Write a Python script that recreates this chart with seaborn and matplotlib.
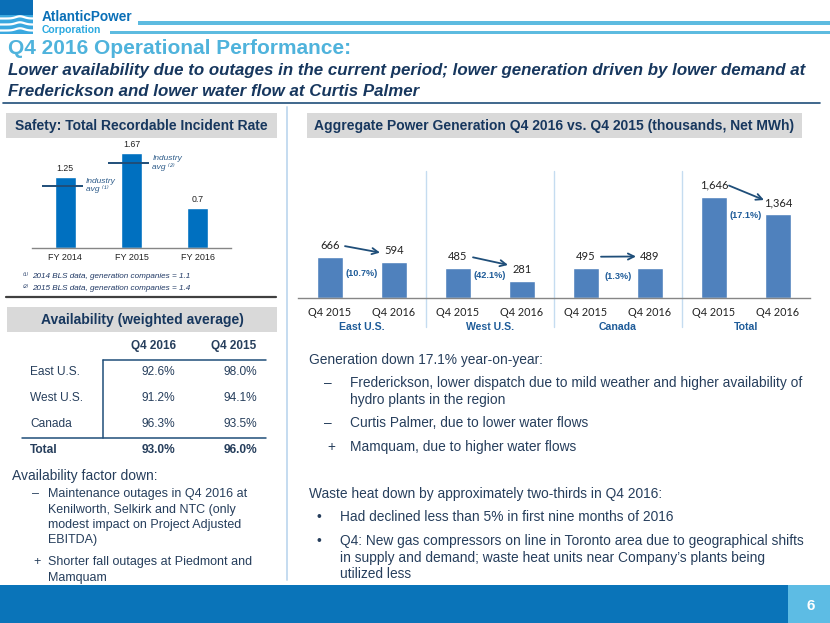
import matplotlib
matplotlib.use('Agg')
import matplotlib.pyplot as plt
import seaborn as sns
import pandas as pd
import numpy as np
from matplotlib.patches import Rectangle
from matplotlib.lines import Line2D
from matplotlib import transforms as mtrans

# ---------------- data ----------------
safety_years = ['FY 2014', 'FY 2015', 'FY 2016']
safety_trir = [1.25, 1.67, 0.7]
safety_labels = ['1.25', '1.67', '0.7']
industry_avg = [1.1, 1.5]          # drawn next to FY 2014 and FY 2015
industry_notes = ['⁽¹⁾', '⁽²⁾']
footnotes = ['2014 BLS data, generation companies = 1.1',
             '2015 BLS data, generation companies = 1.4']

regions = ['East U.S.', 'West U.S.', 'Canada', 'Total']
periods = ['Q4 2015', 'Q4 2016']
gen_q4_2015 = [666, 485, 495, 1646]
gen_q4_2016 = [594, 281, 489, 1364]
gen_change = ['(10.7%)', '(42.1%)', '(1.3%)', '(17.1%)']

avail_rows = ['East U.S.', 'West U.S.', 'Canada', 'Total']
avail_cols = ['Q4 2016', 'Q4 2015']
avail_q4_2016 = [92.6, 91.2, 96.3, 93.0]
avail_q4_2015 = [98.0, 94.1, 93.5, 96.0]

# ---------------- style ----------------
sns.set_style('white')
BASE = ['Liberation Sans', 'DejaVu Sans']
CAL = ['Lato', 'DejaVu Sans']
plt.rcParams['font.family'] = BASE

W, H = 830, 623
fig = plt.figure(figsize=(8.3, 6.23), dpi=100)

NAVY = '#17375E'
BODY = '#263E5C'
TITLE = '#4FB3DC'
BLUE_BAR = '#0070C0'
GEN_BAR = '#4F81BD'
GRAY_HDR = '#D9D9D9'
SEP = '#C5DCF0'


def T(x, y, s, size=9, color=BODY, weight='normal', style='normal', ha='left', va='center', family=None, **kw):
    fig.text(x / W, 1 - y / H, s, fontsize=size, color=color, fontweight=weight, fontstyle=style,
             ha=ha, va=va, family=family or BASE, **kw)


def R(x0, y0, x1, y1, color, z=0):
    fig.add_artist(Rectangle((x0 / W, 1 - y1 / H), (x1 - x0) / W, (y1 - y0) / H,
                             transform=fig.transFigure, facecolor=color, edgecolor='none', zorder=z))


def L(x0, y0, x1, y1, color, lw=1.0, z=1):
    fig.add_artist(Line2D([x0 / W, x1 / W], [1 - y0 / H, 1 - y1 / H], color=color, lw=lw, zorder=z,
                          transform=fig.transFigure))

# ---------------- logo & header ----------------
R(0, 0, 33, 34, '#3AA8DF')
R(0, 0, 33, 15, '#0A6FB7')
xs = np.linspace(0, 33, 60)
for base in (18.5, 24.5, 30.5):
    ys = base - 2.2 * np.exp(-((xs - 20) / 6) ** 2)
    fig.add_artist(Line2D(xs / W, 1 - ys / H, color='white', lw=1.6, transform=fig.transFigure))
T(42, 17, 'AtlanticPower', size=9.8, color='#0A6FB7', weight='bold')
T(42, 30, 'Corporation', size=7.5, color='#29A9E0', weight='bold')
R(138, 21, 830, 25, '#5DBBE0')
R(110, 31, 830, 34, '#5DBBE0')

T(8, 48, 'Q4 2016 Operational Performance:', size=15, color=TITLE, weight='bold')
T(8, 71, 'Lower availability due to outages in the current period; lower generation driven by lower demand at',
  size=12.2, color=NAVY, weight='bold', style='italic')
T(8, 92, 'Frederickson and lower water flow at Curtis Palmer',
  size=12.2, color=NAVY, weight='bold', style='italic')
L(3, 103, 820, 103, '#1F4E79', lw=1.2)

# vertical divider
L(287, 107, 287, 580, SEP, lw=1.4)

# section header boxes
R(6, 113, 277, 138, GRAY_HDR)
T(141.5, 126, 'Safety: Total Recordable Incident Rate', size=10, color=NAVY, weight='bold', ha='center')
R(307, 113, 802, 138, GRAY_HDR)
T(554, 126, 'Aggregate Power Generation Q4 2016 vs. Q4 2015 (thousands, Net MWh)', size=10, color=NAVY,
  weight='bold', ha='center')
R(7, 307, 277, 332, GRAY_HDR)
T(142, 320, 'Availability (weighted average)', size=10, color=NAVY, weight='bold', ha='center')

# ---------------- safety chart ----------------
base_s = 248.3
ax_s = fig.add_axes([32 / W, 1 - base_s / H, (231 - 32) / W, (base_s - 130) / H])
ax_s.patch.set_alpha(0)
sns.barplot(x=safety_years, y=safety_trir, color=BLUE_BAR, saturation=1, width=0.32, errorbar=None, ax=ax_s)
ax_s.set_xlim(-0.5, 2.5)
ax_s.set_ylim(0, (base_s - 130) / 57.0)
for sp in ('left', 'top', 'right'):
    ax_s.spines[sp].set_visible(False)
ax_s.spines['bottom'].set_color('#868686')
ax_s.spines['bottom'].set_linewidth(1.0)
ax_s.set_yticks([])
ax_s.tick_params(axis='x', length=0, labelsize=6.5, pad=3.5, labelcolor='#222222')
ax_s.set_xlabel('')
ax_s.set_ylabel('')
for i, (v, lbl) in enumerate(zip(safety_trir, safety_labels)):
    ax_s.annotate(lbl, (i, v), xytext=(0, 6.5), textcoords='offset points', ha='center', va='center',
                  fontsize=6.3, color='#222222')
for i, (avg, note) in enumerate(zip(industry_avg, industry_notes)):
    ax_s.plot([i - 0.35, i + 0.27], [avg, avg], color='#1F4E79', lw=1.4, solid_capstyle='butt', zorder=5)
    ax_s.annotate('Industry\navg ' + note, (i + 0.27, avg), xytext=(2.2, 0), textcoords='offset points',
                  ha='left', va='center', fontsize=6, fontstyle='italic', color='#2E5C8A',
                  linespacing=1.1, family=BASE)
for k, note in enumerate(footnotes):
    T(23, 277 + 11 * k, industry_notes[k], size=5.5, color='#1F3864', style='italic')
    T(32, 277 + 11 * k, note, size=5.9, color='#1F3864', style='italic')
L(6, 297, 276, 297, '#404040', lw=1.6)

# ---------------- power generation chart ----------------
base_p = 298.3
top_p = 160.0
left_p, right_p = 298, 810
ax_p = fig.add_axes([left_p / W, 1 - base_p / H, (right_p - left_p) / W, (base_p - top_p) / H])
ax_p.patch.set_alpha(0)
keys, vals, tick_lbls = [], [], []
for r, a, b in zip(regions, gen_q4_2015, gen_q4_2016):
    keys += [f'{r}|{periods[0]}', f'{r}|{periods[1]}']
    vals += [a, b]
    tick_lbls += periods
df = pd.DataFrame({'key': keys, 'value': vals})
sns.barplot(data=df, x='key', y='value', order=keys, color=GEN_BAR, saturation=1, width=0.4,
            errorbar=None, ax=ax_p)
ax_p.set_xlim(-0.5, len(keys) - 0.5)
ax_p.set_ylim(0, (base_p - top_p) / 0.0618)
for sp in ('left', 'top', 'right'):
    ax_p.spines[sp].set_visible(False)
ax_p.spines['bottom'].set_color('#868686')
ax_p.spines['bottom'].set_linewidth(1.0)
ax_p.set_yticks([])
ax_p.set_xticks(range(len(keys)))
ax_p.set_xticklabels(tick_lbls, fontsize=7.8, family=CAL, color='#222222')
ax_p.set_xticks(np.arange(-0.5, len(keys), 1.0), minor=True)
ax_p.tick_params(axis='x', which='major', length=0, pad=6)
ax_p.tick_params(axis='x', which='minor', length=2.6, width=0.8, color='#868686', direction='out')
ax_p.set_xlabel('')
ax_p.set_ylabel('')

blend = mtrans.blended_transform_factory(ax_p.transData, ax_p.transAxes)
for g, r in enumerate(regions):
    ax_p.text(2 * g + 0.5, (base_p - 327.3) / (base_p - top_p), r, transform=blend, ha='center', va='center',
              fontsize=7.6, fontweight='bold', color='#1F5C99')
for g in range(len(regions) - 1):
    ax_p.axvline(2 * g + 1.5, ymin=(base_p - 327) / (base_p - top_p), ymax=(base_p - 171) / (base_p - top_p),
                 color=SEP, lw=1.0, clip_on=False)
for i, v in enumerate(vals):
    ax_p.annotate(f'{v:,}', (i, v), xytext=(0, 8.3), textcoords='offset points', ha='center', va='center',
                  fontsize=8, family=CAL, color='#222222')
change_rise_px = [25, 22.6, 21.6, 82.3]
for g, (lbl, rise) in enumerate(zip(gen_change, change_rise_px)):
    ax_p.annotate(lbl, (2 * g + 0.5, 0), xytext=(0, rise * 0.72), textcoords='offset points', ha='center',
                  va='center', fontsize=6.6, fontweight='bold', color='#1F5C99')
arrow_end_dy = [9, 16, 11.6, 14]
for g, (a, b) in enumerate(zip(gen_q4_2015, gen_q4_2016)):
    t0 = mtrans.offset_copy(ax_p.transData, fig=fig, x=15, y=11, units='dots')
    t1 = mtrans.offset_copy(ax_p.transData, fig=fig, x=-14, y=arrow_end_dy[g], units='dots')
    ax_p.annotate('', xy=(2 * g + 1, b), xycoords=t1, xytext=(2 * g, a), textcoords=t0,
                  arrowprops=dict(arrowstyle='->', color='#1F4E79', lw=1.3, shrinkA=0, shrinkB=0,
                                  mutation_scale=11))

# ---------------- availability table ----------------
col_x = [175, 257]
T(153, 346, avail_cols[0], size=8.5, color=BODY, weight='bold', ha='center')
T(234, 346, avail_cols[1], size=8.5, color=BODY, weight='bold', ha='center')
row_y = [372, 398, 424, 450]
for k, (name, a, b) in enumerate(zip(avail_rows, avail_q4_2016, avail_q4_2015)):
    wt = 'bold' if name == 'Total' else 'normal'
    T(30, row_y[k], name, size=8.6, weight=wt)
    T(col_x[0], row_y[k], f'{a:.1f}%', size=8.6, weight=wt, ha='right')
    T(col_x[1], row_y[k], f'{b:.1f}%', size=8.6, weight=wt, ha='right')
L(103, 360, 103, 438, '#1F4E79', lw=1.1)
L(103, 360, 266, 360, '#1F4E79', lw=1.1)
L(22, 438, 266, 438, '#1F4E79', lw=1.1)

T(12, 476, 'Availability factor down:', size=10)
T(32, 494, '–', size=9)
for k, line in enumerate(['Maintenance outages in Q4 2016 at', 'Kenilworth, Selkirk and NTC (only',
                          'modest impact on Project Adjusted', 'EBITDA)']):
    T(48, 494 + 15.5 * k, line, size=9)
T(33, 562, '+', size=9)
T(48, 562, 'Shorter fall outages at Piedmont and', size=9)
T(48, 577.5, 'Mamquam', size=9)

# ---------------- right column text ----------------
RS = 9.9
T(309, 360, 'Generation down 17.1% year-on-year:', size=RS)
T(324, 383, '–', size=RS)
T(350, 383, 'Frederickson, lower dispatch due to mild weather and higher availability of', size=RS)
T(350, 400, 'hydro plants in the region', size=RS)
T(324, 423, '–', size=RS)
T(350, 423, 'Curtis Palmer, due to lower water flows', size=RS)
T(327, 447, '+', size=RS)
T(350, 447, 'Mamquam, due to higher water flows', size=RS)
T(309, 494, 'Waste heat down by approximately two-thirds in Q4 2016:', size=RS)
T(316.5, 517, '•', size=RS)
T(340, 517, 'Had declined less than 5% in first nine months of 2016', size=RS)
T(316.5, 541, '•', size=RS)
T(340, 541, 'Q4: New gas compressors on line in Toronto area due to geographical shifts', size=RS)
T(340, 558, 'in supply and demand; waste heat units near Company’s plants being', size=RS)
T(340, 574, 'utilized less', size=RS)

# ---------------- footer ----------------
R(0, 585, 788, 623, '#0A74B9')
R(788, 585, 830, 623, '#5DBCE4')
T(811, 606, '6', size=11, color='white', weight='bold', ha='center')

fig.savefig('out.png', dpi=100)
